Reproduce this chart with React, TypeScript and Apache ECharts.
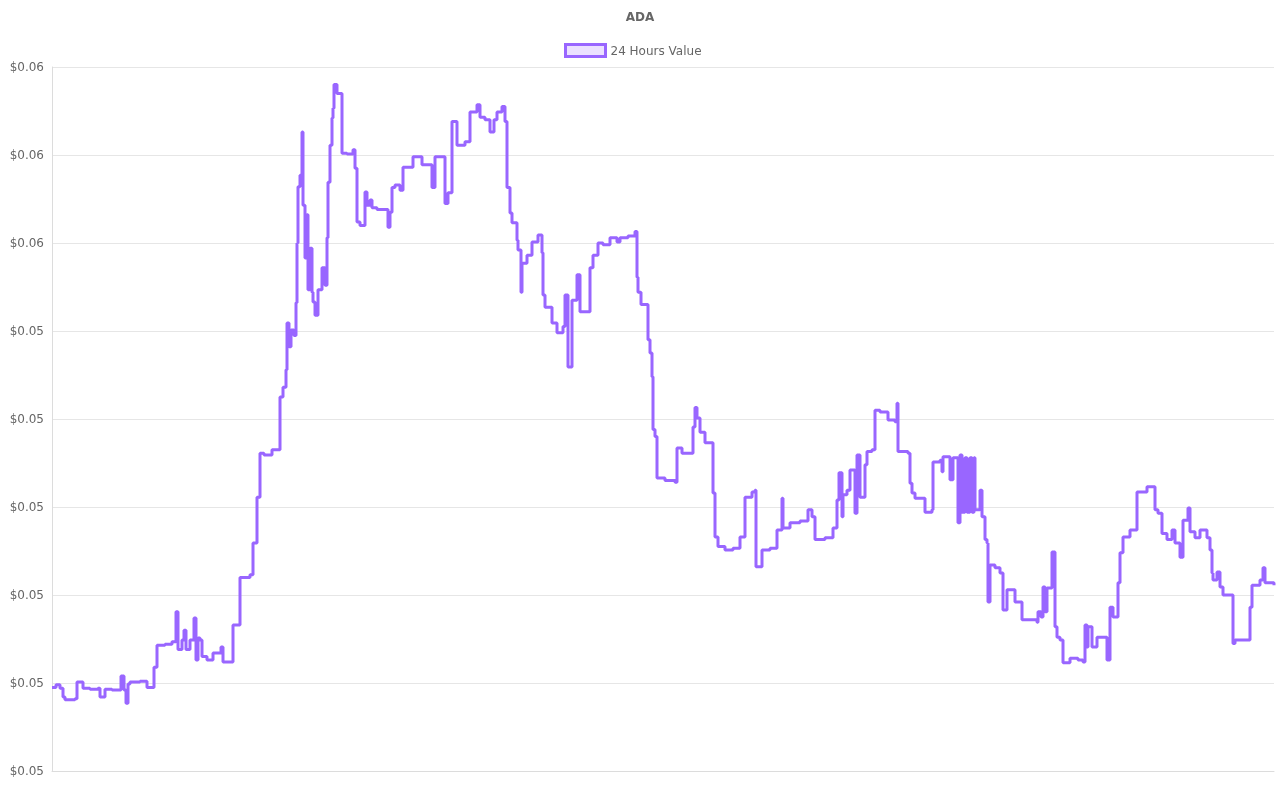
import React, { useEffect, useRef } from "react";
import * as echarts from "echarts";

const chartTitle = "ADA";
const seriesName = "24 Hours Value";

// hours since start of the window
const hours = [
  0, 2, 4, 5.5, 6.5, 11.5, 12.5, 15.5, 19, 23, 24, 26.5, 30, 34.5, 36, 37, 38, 39, 44, 47.5,
  51, 52.5, 56.5, 60, 62, 63, 65, 66, 67, 69, 71, 72, 73, 74, 75, 77.5, 80.5, 84.5, 85.5, 90.5,
  94, 99, 100.5, 102.5, 104, 106, 110, 114, 115.5, 117, 117.5, 118.5, 119.5, 121, 122, 122.5, 123, 124, 125, 125.5,
  126.5, 127.5, 128, 129, 130, 130.5, 131.5, 133, 135, 136.5, 137.5, 138, 139, 140, 140.5, 141, 142.5, 145, 147.5, 150.5,
  151.5, 152.5, 154, 156.5, 157.5, 159, 160, 162.5, 168, 169, 170, 171.5, 174, 175.5, 180.5, 185, 190, 191.5, 196.5, 198,
  200, 202.5, 206.5, 209, 212.5, 214, 216.5, 219, 221, 222.5, 225, 226.5, 227.5, 229, 230, 232.5, 233, 234.5, 235, 237.5,
  240, 243, 245, 245.5, 246.5, 250, 252.5, 255.5, 256.5, 258, 260, 262.5, 264, 269, 270.5, 273, 275.5, 279, 282.5, 284,
  288, 291.5, 292.5, 293, 294.5, 298, 299, 300, 300.5, 301.5, 302.5, 306.5, 311.5, 312.5, 315, 320.5, 321.5, 322.5, 324, 326.5,
  330.5, 331.5, 333, 336.5, 340.5, 344, 346.5, 350, 351.5, 352, 355, 359, 362.5, 365, 365.5, 369, 374, 378, 380, 381.5,
  386.5, 390.5, 392.5, 393.5, 395, 395.5, 397.5, 399, 401.5, 402.5, 404, 406.5, 407.5, 410, 411.5, 414, 418, 421.5, 422.5, 423,
  428, 429, 430, 431.5, 436.5, 440, 440.5, 444, 445, 445.5, 449, 450.5, 453, 454, 455, 456.5, 457.5, 459, 460, 461,
  461.5, 464, 465, 466.5, 467.5, 468, 469, 471.5, 474, 475.5, 477.5, 481.5, 485, 492.5, 493, 494.5, 495.5, 496.5, 497.5, 500,
  501.5, 502.5, 504, 505.5, 509, 513, 515.5, 516.5, 517.5, 518, 520, 522.5, 527.5, 529, 530.5, 533, 534, 535.5, 539, 542.5,
  547.5, 551.5, 553, 555, 557.5, 560, 561.5, 564, 565.5, 568, 569, 571.5, 574, 577.5, 579, 580, 580.5, 582.5, 584, 585.5,
  590.5, 591.5, 599, 600, 604, 605.5, 606.5, 611,
];

// ADA price in USD
const prices = [
  0.05095, 0.05098, 0.05094, 0.05084, 0.05081, 0.05082, 0.05101, 0.05094, 0.05093, 0.05094, 0.05084, 0.05093, 0.05092, 0.05108, 0.05092, 0.05077, 0.05099, 0.05101, 0.05102, 0.05095,
  0.05118, 0.05143, 0.05144, 0.05147, 0.05181, 0.05138, 0.05149, 0.0516, 0.05138, 0.05149, 0.05174, 0.05126, 0.05151, 0.05149, 0.0513, 0.05126, 0.05134, 0.05141, 0.05124, 0.05166,
  0.0522, 0.05223, 0.05259, 0.05311, 0.05361, 0.05359, 0.05365, 0.05425, 0.05436, 0.05456, 0.05509, 0.05482, 0.05501, 0.05495, 0.05532, 0.056, 0.05664, 0.05677, 0.05726, 0.05643,
  0.05583, 0.05632, 0.05547, 0.05594, 0.05544, 0.05533, 0.05518, 0.05547, 0.05572, 0.05552, 0.05606, 0.05669, 0.05711, 0.05742, 0.05753, 0.0578, 0.0577, 0.05702, 0.05701, 0.05706,
  0.05685, 0.05624, 0.0562, 0.05658, 0.05643, 0.05649, 0.0564, 0.05638, 0.05618, 0.05635, 0.05663, 0.05666, 0.0566, 0.05686, 0.05698, 0.05689, 0.05663, 0.05698, 0.05645, 0.05657,
  0.05738, 0.05711, 0.05715, 0.05749, 0.05757, 0.05743, 0.0574, 0.05726, 0.0574, 0.05749, 0.05755, 0.05738, 0.05663, 0.05634, 0.05623, 0.05603, 0.05592, 0.05544, 0.05577, 0.05586,
  0.05601, 0.05609, 0.05589, 0.05541, 0.05527, 0.05509, 0.05498, 0.05505, 0.05541, 0.05459, 0.05535, 0.05564, 0.05522, 0.05572, 0.05586, 0.056, 0.05598, 0.05606, 0.05601, 0.05606,
  0.05608, 0.05613, 0.05561, 0.05544, 0.0553, 0.0549, 0.05475, 0.05448, 0.05388, 0.0538, 0.05333, 0.0533, 0.05328, 0.05367, 0.05361, 0.05391, 0.05413, 0.05401, 0.05385, 0.05373,
  0.05316, 0.05266, 0.05255, 0.05251, 0.05253, 0.05266, 0.05311, 0.05317, 0.05319, 0.05232, 0.05251, 0.05253, 0.05274, 0.0531, 0.05276, 0.05282, 0.05284, 0.05297, 0.05289, 0.05263,
  0.05265, 0.05276, 0.05308, 0.05339, 0.05289, 0.05314, 0.05319, 0.05342, 0.05293, 0.05359, 0.05311, 0.05348, 0.05363, 0.05365, 0.0541, 0.05408, 0.05399, 0.05397, 0.05418, 0.05363,
  0.05361, 0.05327, 0.05316, 0.0531, 0.05294, 0.05297, 0.05351, 0.05353, 0.0534, 0.05357, 0.05331, 0.05356, 0.05282, 0.05359, 0.05294, 0.05356, 0.05294, 0.05356, 0.05294, 0.05356,
  0.05297, 0.05319, 0.05289, 0.05263, 0.05259, 0.05192, 0.05234, 0.05231, 0.05225, 0.05183, 0.05206, 0.05192, 0.05172, 0.05169, 0.05181, 0.05175, 0.05209, 0.05181, 0.05208, 0.05249,
  0.05164, 0.05152, 0.05149, 0.05123, 0.05128, 0.05126, 0.05124, 0.05166, 0.05141, 0.05164, 0.05141, 0.05152, 0.05126, 0.05186, 0.05175, 0.05214, 0.05248, 0.05266, 0.05274, 0.05317,
  0.05323, 0.05297, 0.05293, 0.0527, 0.05263, 0.05274, 0.05259, 0.05243, 0.05285, 0.05299, 0.05272, 0.05265, 0.05274, 0.05265, 0.05251, 0.05225, 0.05217, 0.05226, 0.05209, 0.052,
  0.05145, 0.05149, 0.05186, 0.05211, 0.05217, 0.05231, 0.05214, 0.05211,
];

const yMin = 0.05;
const yMax = 0.058;
const yStep = 0.001;
const yTickLabels = ["$0.05", "$0.05", "$0.05", "$0.05", "$0.05", "$0.05", "$0.06", "$0.06", "$0.06"];

export default function App() {
  const ref = useRef<HTMLDivElement>(null);

  useEffect(() => {
    if (!ref.current) return;
    const chart = echarts.init(ref.current, undefined, { renderer: "svg" });
    const font = "'DejaVu Sans', sans-serif";
    const data = hours.map((h, i) => [h, prices[i]]);
    chart.setOption({
      animation: false,
      textStyle: { fontFamily: font },
      title: {
        text: chartTitle,
        left: "center",
        top: 6,
        textStyle: { fontFamily: font, fontSize: 12, fontWeight: "bold", color: "#666" },
      },
      legend: {
        top: 38,
        left: 559,
        itemWidth: 40,
        itemHeight: 12,
        itemGap: 10,
        textStyle: { fontFamily: font, fontSize: 12, color: "#666" },
        data: [
          {
            name: seriesName,
            icon: "rect",
            itemStyle: { color: "rgba(153,102,255,0.2)", borderColor: "#9966ff", borderWidth: 3 },
          },
        ],
      },
      grid: { left: 52, right: 6, top: 67, bottom: 29, containLabel: false },
      xAxis: {
        type: "value",
        min: hours[0],
        max: hours[hours.length - 1],
        axisLabel: { show: false },
        axisTick: { show: false },
        splitLine: { show: false },
        axisLine: { show: true, lineStyle: { color: "#dcdcdc", width: 1 } },
      },
      yAxis: {
        type: "value",
        min: yMin,
        max: yMax,
        interval: yStep,
        axisLine: { show: true, lineStyle: { color: "#dcdcdc", width: 1 } },
        axisTick: { show: false },
        splitLine: { show: true, lineStyle: { color: "#e6e6e6", width: 1 } },
        axisLabel: {
          margin: 8,
          fontFamily: font,
          fontSize: 12,
          color: "#666",
          formatter: (v: number) => yTickLabels[Math.round((v - yMin) / yStep)] ?? "",
        },
      },
      series: [
        {
          name: seriesName,
          type: "line",
          step: "end",
          data,
          showSymbol: false,
          symbol: "none",
          lineStyle: { color: "#9966ff", width: 3 },
          itemStyle: { color: "rgba(153,102,255,0.2)", borderColor: "#9966ff", borderWidth: 3 },
        },
      ],
    });
    return () => chart.dispose();
  }, []);

  return <div ref={ref} style={{ position: "fixed", left: 0, top: 0, width: 1280, height: 800 }} />;
}
